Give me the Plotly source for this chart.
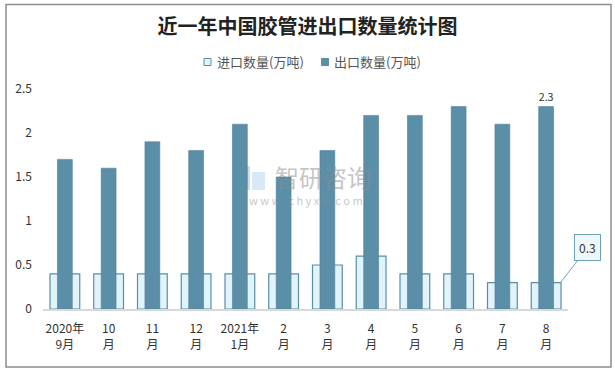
import plotly.graph_objects as go

categories = ["2020年<br>9月", "10<br>月", "11<br>月", "12<br>月", "2021年<br>1月", "2<br>月",
              "3<br>月", "4<br>月", "5<br>月", "6<br>月", "7<br>月", "8<br>月"]
import_qty = [0.4, 0.4, 0.4, 0.4, 0.4, 0.4, 0.5, 0.6, 0.4, 0.4, 0.3, 0.3]
export_qty = [1.7, 1.6, 1.9, 1.8, 2.1, 1.5, 1.8, 2.2, 2.2, 2.3, 2.1, 2.3]
series_names = ["进口数量(万吨)", "出口数量(万吨)"]
y_ticks = [0, 0.5, 1, 1.5, 2, 2.5]
y_tick_labels = ["0", "0.5", "1", "1.5", "2", "2.5"]

FONT = "Noto Sans CJK SC"
IMP_FILL, IMP_LINE = "#e2f4fb", "#5a8ea7"
EXP_FILL, EXP_LINE = "#5b8fa8", "#4f8099"
x_idx = list(range(len(categories)))

fig = go.Figure()
fig.add_trace(go.Bar(
    name=series_names[0], x=x_idx, y=import_qty, width=0.68, showlegend=False,
    marker=dict(color=IMP_FILL, line=dict(color=IMP_LINE, width=1.2)),
))
export_text = [""] * (len(export_qty) - 1) + [f"{export_qty[-1]}"]
fig.add_trace(go.Bar(
    name=series_names[1], x=x_idx, y=export_qty, width=0.34, showlegend=False,
    marker=dict(color=EXP_FILL, line=dict(color=EXP_LINE, width=0.6)),
    text=export_text, textposition="outside", cliponaxis=False,
    textfont=dict(family=FONT, size=12, color="#333333"),
))

# plot area pixel geometry helpers
L, R, T, B = 43, 47, 89, 63
W, H = 615, 372
pw, ph = W - L - R, H - T - B
def px(x): return (x - L) / pw
def py(y): return (H - B - y) / ph

shapes = [dict(type="rect", xref="paper", yref="paper",
               x0=px(6), x1=px(611), y0=py(367), y1=py(4.5),
               line=dict(color="#8c8c8c", width=1.5), layer="below")]
# watermark logo (simple blocks)
shapes += [
    dict(type="rect", xref="paper", yref="paper", x0=px(238), x1=px(250), y0=py(190), y1=py(166),
         fillcolor="rgba(120,160,200,0.35)", line=dict(width=0), layer="below"),
    dict(type="rect", xref="paper", yref="paper", x0=px(252), x1=px(265), y0=py(190), y1=py(172),
         fillcolor="rgba(140,190,230,0.35)", line=dict(width=0), layer="below"),
]
annotations = []
# legend (drawn as swatches + text)
legend_items = [(series_names[0], IMP_FILL, IMP_LINE, 207.5), (series_names[1], EXP_FILL, EXP_FILL, 325)]
for name, fill, line, lx in legend_items:
    shapes.append(dict(type="rect", xref="paper", yref="paper",
                       x0=px(lx - 3.5), x1=px(lx + 3.5), y0=py(65.5), y1=py(58.5),
                       fillcolor=fill, line=dict(color=line, width=1)))
    annotations.append(dict(x=px(lx + 7), y=py(62), xref="paper", yref="paper", text=name,
                            xanchor="left", yanchor="middle", showarrow=False,
                            font=dict(family=FONT, size=13, color="#555555")))

annotations += [
    dict(x=len(categories) - 1 + 0.33, y=import_qty[-1], xref="x", yref="y",
         text=f"{import_qty[-1]}", showarrow=True, arrowhead=0, arrowwidth=1,
         arrowcolor="#6fa3b8", ax=27, ay=-35,
         bgcolor="#eef8fa", bordercolor="#6fa3b8", borderwidth=1, borderpad=4,
         font=dict(family=FONT, size=12, color="#333333")),
    dict(x=px(323), y=py(176), xref="paper", yref="paper", text="智研咨询",
         showarrow=False, font=dict(family=FONT, size=24, color="rgba(140,140,140,0.5)")),
    dict(x=px(306), y=py(200), xref="paper", yref="paper", text="w w w . c h y x x . c o m",
         showarrow=False, font=dict(family=FONT, size=11, color="rgba(140,140,140,0.5)")),
]

fig.update_layout(
    width=W, height=H,
    margin=dict(l=L, r=R, t=T, b=B),
    paper_bgcolor="white", plot_bgcolor="white",
    barmode="overlay",
    showlegend=False,
    title=dict(text="<b>近一年中国胶管进出口数量统计图</b>", x=0.5, xanchor="center",
               y=1 - 27 / H, yanchor="middle",
               font=dict(family=FONT, size=20, color="#222222")),
    xaxis=dict(tickmode="array", tickvals=x_idx, ticktext=categories,
               range=[-0.5, len(categories) - 0.5],
               showline=True, linecolor="#d9d9d9", linewidth=1.5, showgrid=False,
               ticks="", ticklabelstandoff=8,
               tickfont=dict(family=FONT, size=12, color="#333333")),
    yaxis=dict(range=[0, 2.5], tickmode="array", tickvals=y_ticks, ticktext=y_tick_labels,
               showgrid=False, zeroline=False, showline=False, ticks="",
               ticklabelstandoff=10,
               tickfont=dict(family=FONT, size=12, color="#333333")),
    shapes=shapes,
    annotations=annotations,
)

fig.write_html("out.html", config={"displayModeBar": False},
               post_script="document.body.style.margin='0';document.body.style.padding='0';")
